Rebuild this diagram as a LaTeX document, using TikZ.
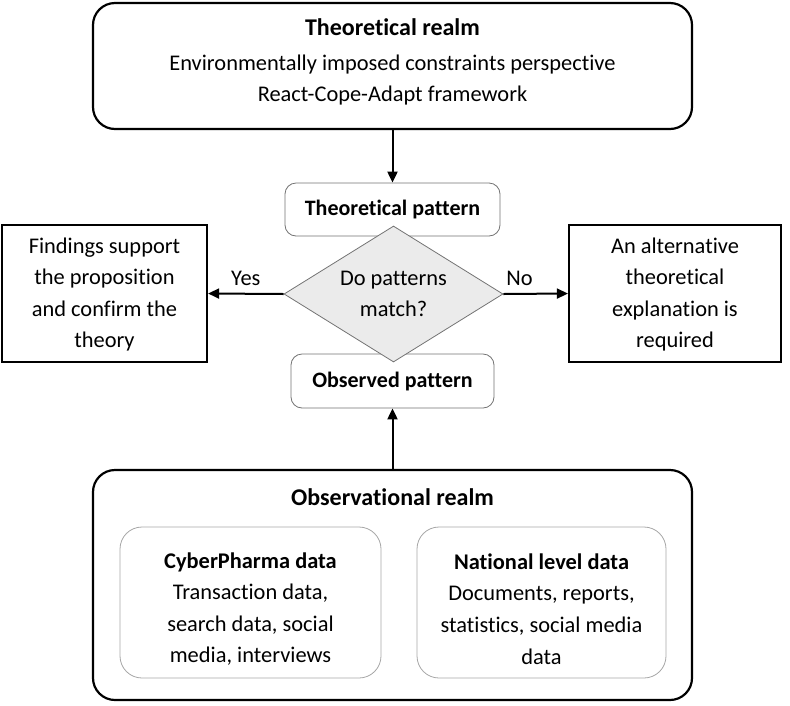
\documentclass[tikz,border=0pt]{standalone}
\usepackage{fontspec}
\setmainfont[Ligatures=NoCommon]{Carlito}
\usetikzlibrary{shapes.geometric,arrows.meta}
\begin{document}
\begin{tikzpicture}[x=1pt,y=-1pt,
  txt/.style={font=\fontsize{22.4}{31.6}\selectfont,align=center,inner sep=0pt},
  bigbox/.style={draw=black,line width=2.2pt,rounded corners=22pt,inner sep=0pt},
  pbox/.style={draw=black!55,line width=0.8pt,rounded corners=11pt,inner sep=0pt,fill=white},
  sqbox/.style={draw=black,line width=2.2pt,inner sep=0pt},
  ibox/.style={draw=black!35,line width=0.8pt,rounded corners=22pt,inner sep=0pt},
  dia/.style={diamond,draw=black!55,line width=0.8pt,fill=black!8,inner sep=0pt},
  arr/.style={line width=2pt,-{Triangle[length=11pt,width=10pt]}}]
\useasboundingbox (0,0) rectangle (790,705);
% top realm
\node[bigbox,minimum width=599pt,minimum height=126pt] (top) at (392.5,66) {};
\node[txt,font=\fontsize{24}{31}\selectfont\bfseries] (toptitle) at (392.5,27) {Theoretical realm};
\node[txt] (toptext) at (392.5,80) {Environmentally imposed constraints perspective\\React-Cope-Adapt framework};
% pattern boxes
\node[pbox,minimum width=215pt,minimum height=53pt] (tp) at (392.5,209.5) {};
\node[txt,font=\fontsize{22}{31}\selectfont\bfseries] (tptext) at (392.5,210) {Theoretical pattern};
\node[pbox,minimum width=203pt,minimum height=54pt] (op) at (392.5,381) {};
\node[txt,font=\fontsize{22}{31}\selectfont\bfseries] (optext) at (392.5,382) {Observed pattern};
% diamond
\node[dia,minimum width=219pt,minimum height=136pt] (d) at (393.5,294) {};
\node[txt] (dtext) at (393.5,294) {Do patterns\\match?};
% side boxes
\node[sqbox,minimum width=205pt,minimum height=137pt] (left) at (104.5,293.5) {};
\node[txt] (lefttext) at (104.5,294.5) {Findings support\\the proposition\\and confirm the\\theory};
\node[sqbox,minimum width=212pt,minimum height=137pt] (right) at (675,293.5) {};
\node[txt] (righttext) at (675,294.5) {An alternative\\theoretical\\explanation is\\required};
% observational realm
\node[bigbox,minimum width=599pt,minimum height=230pt] (obs) at (392.5,585) {};
\node[txt,font=\fontsize{24}{31}\selectfont\bfseries] (obstitle) at (392.5,497) {Observational realm};
\node[ibox,minimum width=261pt,minimum height=151pt] (il) at (250.5,602.5) {};
\node[txt] (iltext) at (250.5,609) {\textbf{CyberPharma data}\\Transaction data,\\search data, social\\media, interviews};
\node[ibox,minimum width=249pt,minimum height=151pt] (ir) at (541.5,602.5) {};
\node[txt] (irtext) at (541.5,609) {\textbf{National level data}\\Documents, reports,\\statistics, social media\\data};
% arrows
\draw[arr] (top.south) -- (tp.north);
\draw[arr] (obs.north) -- (op.south);
\draw[arr] (d.west) -- node[txt,above=7pt] (yes) {Yes} (left.east);
\draw[arr] (d.east) -- node[txt,above=7pt,pos=0.25] (no) {No} (right.west);
\end{tikzpicture}
\end{document}
